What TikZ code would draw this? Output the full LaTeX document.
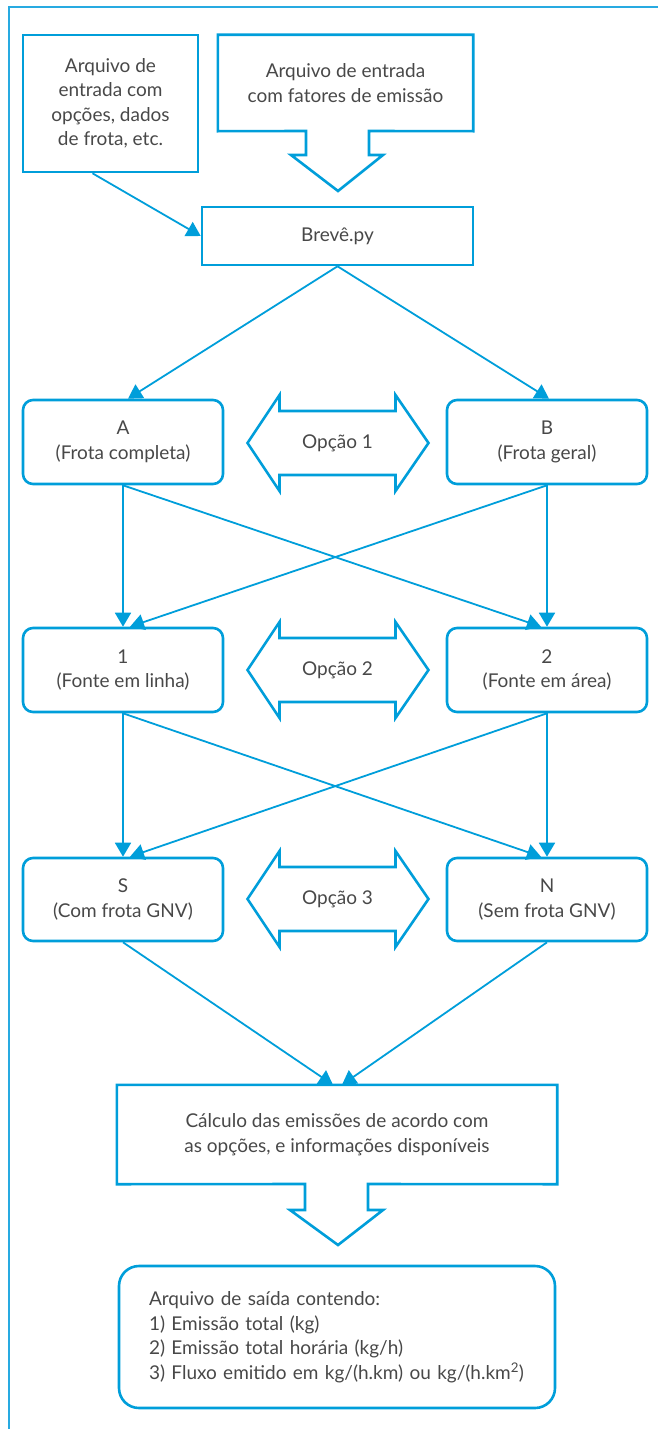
\documentclass[tikz,border=0pt]{standalone}
\usepackage{fontspec}
\setmainfont{Lato}
\usetikzlibrary{arrows.meta,calc}
\definecolor{cblue}{RGB}{0,158,218}
\definecolor{cframe}{RGB}{40,170,225}
\definecolor{ctext}{RGB}{72,72,72}
\begin{document}
\begin{tikzpicture}[x=1pt,y=-1pt,
  txt/.style={text=ctext,font=\fontsize{19}{24.5}\selectfont,align=center,inner sep=0pt},
  rbox/.style={txt,draw=cblue,line width=2.6pt,rounded corners=10pt,minimum width=200pt,minimum height=84pt},
  sbox/.style={txt,draw=cblue,line width=2.6pt},
  plain/.style={txt},
  outline/.style={draw=cblue,line width=2.6pt,line join=miter},
  conn/.style={draw=cblue,line width=1.8pt,-{Triangle[length=14pt,width=16pt]}},
  frameline/.style={draw=cframe,line width=1.5pt},
  optarrow/.pic={\draw[outline] (-90,0) -- (-58,-48) -- (-58,-32) -- (58,-32) -- (58,-48) -- (91,0) -- (58,48) -- (58,32) -- (-58,32) -- (-58,48) -- cycle;}
]
\useasboundingbox (0,0) rectangle (658,1429);
% frame
\draw[frameline] (8,7) -- (658,7);
\draw[frameline] (9,7) -- (9,1429);

% top boxes
\node[sbox,minimum width=175pt,minimum height=137pt] (in1) at (110.5,103.5) {Arquivo de\\entrada com\\opções, dados\\de frota, etc.};
\node[plain,minimum width=255pt,minimum height=96pt] (in2) at (345.5,83) {Arquivo de entrada\\com fatores de emissão};
\draw[outline] (in2.north west) -- (in2.north east) -- (in2.south east) -- (369,131) -- (369,155) -- (383,155) -- (338,191) -- (291,155) -- (306,155) -- (306,131) -- (in2.south west) -- cycle;
\node[sbox,minimum width=271pt,minimum height=58pt] (brev) at (337.5,236) {Brevê.py};

% rows
\node[rbox] (A) at (123,442) {A\\(Frota completa)};
\node[rbox] (B) at (547,442) {B\\(Frota geral)};
\node[plain] (o1) at (337.5,443) {Opção 1};
\pic at (o1) {optarrow};

\node[rbox] (one) at (123,670) {1\\(Fonte em linha)};
\node[rbox] (two) at (547,670) {2\\(Fonte em área)};
\node[plain] (o2) at (337.5,670) {Opção 2};
\pic at (o2) {optarrow};

\node[rbox,minimum height=83pt] (S) at (123,899.5) {S\\(Com frota GNV)};
\node[rbox,minimum height=83pt] (N) at (547,899.5) {N\\(Sem frota GNV)};
\node[plain] (o3) at (337.5,899) {Opção 3};
\pic at (o3) {optarrow};

% calculation box
\node[plain,minimum width=440pt,minimum height=99pt] (calc) at (337,1134.5) {Cálculo das emissões de acordo com\\as opções, e informações disponíveis};
\draw[outline] (calc.north west) -- (calc.north east) -- (calc.south east) -- (368,1184) -- (368,1210) -- (383,1210) -- (338,1245) -- (290,1210) -- (305,1210) -- (305,1184) -- (calc.south west) -- cycle;

% output box
\node[txt,draw=cblue,line width=2.6pt,rounded corners=20pt,align=left,text width=376pt,inner xsep=30pt,minimum height=142pt] (out) at (337,1337) {Arquivo de saída contendo:\\1) Emissão total (kg)\\2) Emissão total horária (kg/h)\\3) Fluxo emitido em kg/(h.km) ou kg/(h.km\textsuperscript{2})};

% connectors
\draw[conn] ($(in1.south)+(-18,0)$) -- (brev.west);
\draw[conn] (brev.south) -- ($(A.north)+(5,0)$);
\draw[conn] (brev.south) -- ($(B.north)+(2,0)$);
\draw[conn] (A.south) -- (one.north);
\draw[conn] (A.south) -- ($(two.north)+(-6,0)$);
\draw[conn] (B.south) -- (two.north);
\draw[conn] (B.south) -- ($(one.north)+(7,0)$);
\draw[conn] (one.south) -- (S.north);
\draw[conn] (one.south) -- ($(N.north)+(-6,0)$);
\draw[conn] (two.south) -- (N.north);
\draw[conn] (two.south) -- ($(S.north)+(7,0)$);
\draw[conn] (S.south) -- ($(calc.north)+(-4,0)$);
\draw[conn] (N.south) -- ($(calc.north)+(5,0)$);
\end{tikzpicture}
\end{document}
